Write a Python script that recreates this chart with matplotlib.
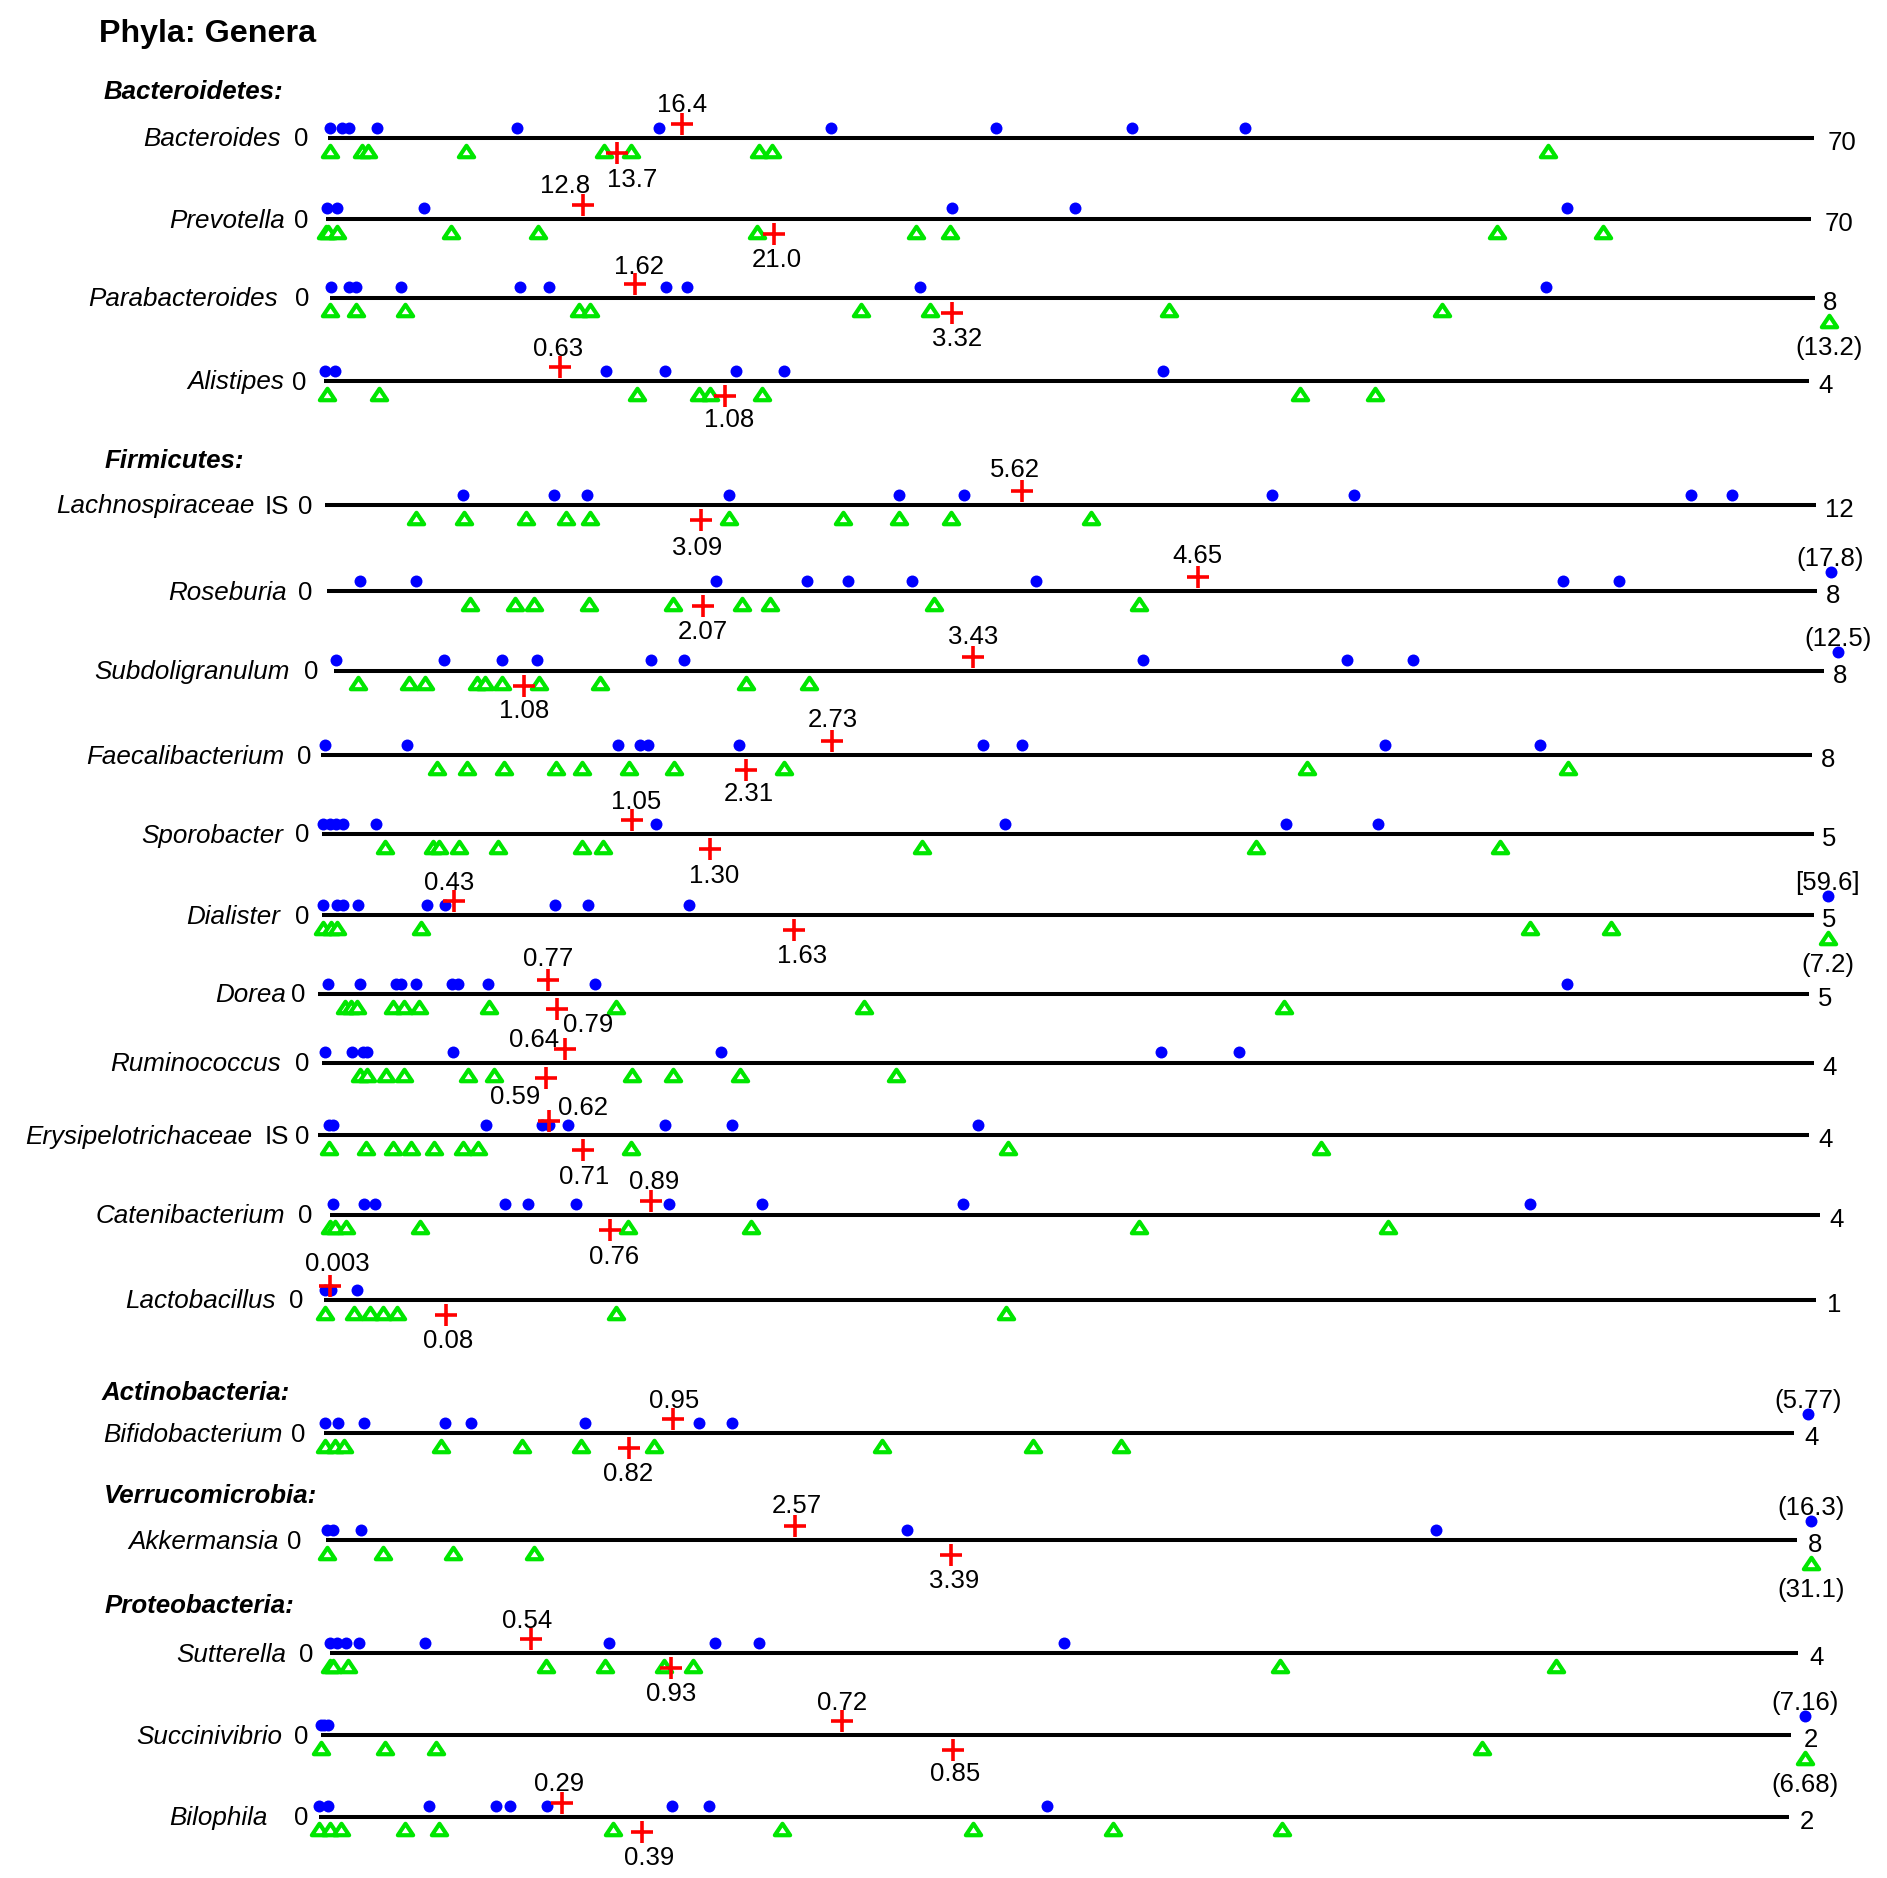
import matplotlib
matplotlib.use("Agg")
import matplotlib.pyplot as plt
from matplotlib.path import Path
from matplotlib.transforms import ScaledTranslation

plt.rcParams['font.family'] = ['Liberation Sans', 'DejaVu Sans']

# ---------------- data ----------------
title = "Phyla: Genera"
phyla = ["Bacteroidetes:", "Firmicutes:", "Actinobacteria:", "Verrucomicrobia:", "Proteobacteria:"]

genera = ["Bacteroides", "Prevotella", "Parabacteroides", "Alistipes",
          "Lachnospiraceae", "Roseburia", "Subdoligranulum", "Faecalibacterium",
          "Sporobacter", "Dialister", "Dorea", "Ruminococcus",
          "Erysipelotrichaceae", "Catenibacterium", "Lactobacillus",
          "Bifidobacterium", "Akkermansia", "Sutterella", "Succinivibrio", "Bilophila"]
genus_suffix = ["", "", "", "", "IS", "", "", "", "", "", "", "", "IS", "", "", "", "", "", "", ""]

scale_max = [70, 70, 8, 4, 12, 8, 8, 8, 5, 5, 5, 4, 4, 4, 1, 4, 8, 4, 2, 2]
scale_max_labels = ["70", "70", "8", "4", "12", "8", "8", "8", "5", "5", "5", "4", "4", "4", "1",
                    "4", "8", "4", "2", "2"]

# upper group (blue dots)
group_a = [
    [0.1, 0.67, 0.97, 2.3, 8.9, 15.6, 23.7, 31.5, 37.9, 43.2],
    [0.06, 0.52, 4.6, 29.5, 35.3, 58.5],
    [0.005, 0.10, 0.14, 0.38, 1.02, 1.18, 1.81, 1.92, 3.18, 6.55],
    [0.004, 0.03, 0.76, 0.92, 1.11, 1.24, 2.26],
    [1.11, 1.84, 2.11, 3.25, 4.62, 5.14, 7.62, 8.28, 11.0, 11.33],
    [0.18, 0.48, 2.09, 2.58, 2.80, 3.14, 3.81, 6.64, 6.94, 17.8],
    [0.01, 0.59, 0.90, 1.09, 1.70, 1.88, 4.34, 5.44, 5.79, 12.5],
    [0.02, 0.46, 1.59, 1.71, 1.75, 2.24, 3.55, 3.76, 5.71, 6.54],
    [0.004, 0.027, 0.045, 0.069, 0.18, 1.12, 2.29, 3.23, 3.54],
    [0.004, 0.05, 0.07, 0.12, 0.35, 0.41, 0.78, 0.89, 1.23, 59.6],
    [0.034, 0.14, 0.26, 0.28, 0.33, 0.45, 0.47, 0.57, 0.93, 4.19],
    [0.006, 0.08, 0.11, 0.12, 0.35, 1.07, 2.25, 2.46],
    [0.03, 0.04, 0.45, 0.60, 0.62, 0.67, 0.93, 1.11, 1.77],
    [0.006, 0.09, 0.12, 0.47, 0.53, 0.66, 0.91, 1.16, 1.70, 3.22],
    [0.001, 0.005, 0.022],
    [0.004, 0.04, 0.11, 0.33, 0.40, 0.71, 1.02, 1.11, 5.77],
    [0.007, 0.04, 0.19, 3.16, 6.04, 16.3],
    [0.002, 0.02, 0.045, 0.08, 0.26, 0.76, 1.05, 1.17, 2.00],
    [0.0, 0.005, 0.01, 7.16],
    [0.0, 0.012, 0.15, 0.24, 0.26, 0.31, 0.48, 0.53, 0.99],
]
# lower group (green triangles)
group_b = [
    [0.1, 1.6, 1.9, 6.5, 13.0, 14.3, 20.3, 20.9, 57.5],
    [0.0, 0.1, 0.52, 5.9, 10.0, 20.3, 27.8, 29.4, 55.2, 60.2],
    [0.0, 0.14, 0.40, 1.34, 1.40, 2.86, 3.23, 4.52, 5.99, 13.2],
    [0.01, 0.15, 0.845, 1.01, 1.04, 1.18, 2.63, 2.83],
    [0.73, 1.12, 1.62, 1.94, 2.13, 3.25, 4.17, 4.62, 5.04, 6.17],
    [0.77, 1.01, 1.11, 1.41, 1.86, 2.23, 2.38, 3.26, 4.36],
    [0.13, 0.40, 0.49, 0.77, 0.81, 0.90, 1.10, 1.43, 2.21, 2.55],
    [0.62, 0.78, 0.98, 1.26, 1.40, 1.65, 1.89, 2.48, 5.29, 6.69],
    [0.21, 0.37, 0.39, 0.46, 0.59, 0.87, 0.94, 2.01, 3.13, 3.95],
    [0.004, 0.03, 0.05, 0.33, 4.05, 4.32, 7.2],
    [0.09, 0.11, 0.13, 0.25, 0.29, 0.34, 0.575, 1.0, 1.83, 3.24],
    [0.10, 0.12, 0.17, 0.22, 0.39, 0.46, 0.83, 0.94, 1.12, 1.54],
    [0.03, 0.13, 0.20, 0.25, 0.31, 0.39, 0.43, 0.84, 1.85, 2.69],
    [0.0, 0.012, 0.042, 0.24, 0.80, 1.13, 2.17, 2.84],
    [0.001, 0.02, 0.031, 0.04, 0.049, 0.196, 0.457],
    [0.004, 0.03, 0.055, 0.32, 0.54, 0.70, 0.90, 1.52, 1.93, 2.17],
    [0.007, 0.31, 0.69, 1.13, 31.1],
    [0.0, 0.009, 0.05, 0.59, 0.75, 0.91, 0.99, 2.59, 3.34],
    [0.0, 0.088, 0.157, 1.58, 6.68],
    [0.0, 0.015, 0.03, 0.117, 0.163, 0.40, 0.63, 0.89, 1.08, 1.31],
]

mean_a = [16.7, 12.1, 1.64, 0.637, 5.61, 4.68, 3.43, 2.74, 1.04, 0.44,
          0.77, 0.65, 0.62, 0.86, 0.0045, 0.95, 2.55, 0.55, 0.71, 0.33]
mean_a_labels = ["16.4", "12.8", "1.62", "0.63", "5.62", "4.65", "3.43", "2.73", "1.05", "0.43",
                 "0.77", "0.64", "0.62", "0.89", "0.003", "0.95", "2.57", "0.54", "0.72", "0.29"]
mean_b = [13.6, 21.1, 3.35, 1.08, 3.03, 2.02, 1.02, 2.28, 1.30, 1.58,
          0.80, 0.60, 0.71, 0.75, 0.082, 0.83, 3.40, 0.93, 0.86, 0.44]
mean_b_labels = ["13.7", "21.0", "3.32", "1.08", "3.09", "2.07", "1.08", "2.31", "1.30", "1.63",
                 "0.79", "0.59", "0.71", "0.76", "0.08", "0.82", "3.39", "0.93", "0.85", "0.39"]

# outliers shown beyond the scale end: label format per (genus, group)
outlier_format = {("Dialister", "a"): "[{}]"}

# ---------------- layout (pixels) ----------------
W, H, DPI = 1887, 1878, 100
line_y = [138, 219, 297.7, 381, 505, 591, 670.7, 755, 834, 915, 994, 1062.7, 1135.3,
          1214.7, 1300, 1433.3, 1540.3, 1653.3, 1735, 1816.7]
line_x0 = [328, 326, 330.4, 323.7, 325, 326.8, 334, 321.4, 322.3, 322.3, 318, 322.3, 318,
           330.4, 323.7, 323.7, 326, 329.5, 320.5, 319.2]
line_x1 = [1813.5, 1811, 1814.8, 1809, 1815.7, 1816.6, 1824.4, 1812.2, 1813.5, 1813.5, 1809,
           1813.5, 1809, 1820, 1815.7, 1793.8, 1796.8, 1798.2, 1790.7, 1788.5]
name_right = [280.4, 284.8, 277.7, 284.4, 254.5, 287.0, 289.3, 284.8, 283.5, 280.4, 285.7,
              281.3, 252.2, 284.8, 275.4, 282.1, 279.0, 286.6, 282.6, 267.9]
suffix_right = 289.3
zero_right = [308, 308, 309, 306, 312.5, 312.5, 318.8, 311.6, 309.8, 309.8, 305.8, 309,
              309.8, 312.5, 303.6, 305.4, 301.3, 313.4, 308, 308]
max_gap = [14, 14, 8, 9, 9, 9, 8, 9, 8, 8, 9, 9, 9, 9, 11, 11, 11, 11, 13, 11]
a_dx = [0, -18, 4, -2, -7, -1, 0, 1, 4, -4, 1, -31, 34, 3, 7, 1, 2, -4, 0, -3]
a_dy = [35, 35, 33, 34, 37, 37, 36, 37, 34, 34, 37, 25, 29, 35, 38, 34, 36, 34, 34, 35]
b_dx = [16, 3, 5, 4, -4, 0, 0, 3, 4, 9, 32, -31, 1, 4, 2, -1, 3, 0, 2, 7]
b_dy = [-40, -39, -39, -37, -41, -39, -38, -37, -40, -39, -29, -32, -40, -40, -39, -39,
        -39, -39, -37, -39]
phyla_pos = [(103.6, 99.3), (105, 468.3), (101.8, 1400), (103.6, 1502.7), (105, 1613.3)]

BLUE, GREEN, RED = "#0000ff", "#00e600", "#ff0000"
NAME_FS, NUM_FS = 18.7, 18.5
HALF = 60

tri = Path([(-1, -0.75), (1, -0.75), (0, 0.75), (-1, -0.75)],
           [Path.MOVETO, Path.LINETO, Path.LINETO, Path.CLOSEPOLY])
TRI_MS, TRI_MEW = 11.0, 3.0
DOT_MS = 8.6

fig = plt.figure(figsize=(W / DPI, H / DPI), dpi=DPI)
fig.patch.set_facecolor("white")

canvas = fig.add_axes([0, 0, 1, 1])
canvas.set_xlim(0, W)
canvas.set_ylim(H, 0)
canvas.axis("off")

canvas.text(99, 41.7, title, fontsize=23.2, fontweight="bold", ha="left", va="baseline")
for name, (px, py) in zip(phyla, phyla_pos):
    canvas.text(px, py, name, fontsize=18.6, fontweight="bold", fontstyle="italic",
                ha="left", va="baseline")

for i, g in enumerate(genera):
    y, x0, x1 = line_y[i], line_x0[i], line_x1[i]
    mx = scale_max[i]
    # labels on the left
    canvas.text(name_right[i], y + 8.5, g, fontsize=NAME_FS, fontstyle="italic",
                ha="right", va="baseline")
    if genus_suffix[i]:
        canvas.text(suffix_right, y + 8.5, genus_suffix[i], fontsize=NAME_FS,
                    ha="right", va="baseline")
    canvas.text(zero_right[i], y + 8.5, "0", fontsize=NUM_FS, ha="right", va="baseline")

    ax = fig.add_axes([x0 / W, 1 - (y + HALF) / H, (x1 - x0) / W, 2 * HALF / H])
    ax.set_xlim(0, mx)
    ax.set_ylim(-HALF, HALF)
    ax.axis("off")
    ax.plot([0, mx], [0, 0], color="black", lw=2.9, solid_capstyle="butt", zorder=1)
    ax.text(mx, -12, scale_max_labels[i],
            transform=ax.transData + ScaledTranslation(max_gap[i] / DPI, 0, fig.dpi_scale_trans),
            fontsize=NUM_FS, ha="left", va="baseline")
    shift = ax.transData + ScaledTranslation(14 / DPI, 0, fig.dpi_scale_trans)

    a_in = [v for v in group_a[i] if v <= mx]
    a_out = [v for v in group_a[i] if v > mx]
    b_in = [v for v in group_b[i] if v <= mx]
    b_out = [v for v in group_b[i] if v > mx]

    ax.plot(a_in, [10.5] * len(a_in), ls="none", marker="o", ms=DOT_MS, color=BLUE,
            mec=BLUE, mew=0, clip_on=False, zorder=3)
    ax.plot(b_in, [-12.5] * len(b_in), ls="none", marker=tri, ms=TRI_MS, mfc="white",
            mec=GREEN, mew=TRI_MEW, clip_on=False, zorder=3)
    for v in a_out:
        ax.plot([mx], [19], ls="none", marker="o", ms=DOT_MS, color=BLUE, mew=0,
                transform=shift, clip_on=False, zorder=3)
        fmt = outlier_format.get((g, "a"), "({})")
        ax.text(mx, 34 - 9, fmt.format(v), transform=shift, fontsize=NUM_FS,
                ha="center", va="baseline")
    for v in b_out:
        ax.plot([mx], [-23], ls="none", marker=tri, ms=TRI_MS, mfc="white", mec=GREEN,
                mew=TRI_MEW, transform=shift, clip_on=False, zorder=3)
        fmt = outlier_format.get((g, "b"), "({})")
        ax.text(mx, -48 - 9, fmt.format(v), transform=shift, fontsize=NUM_FS,
                ha="center", va="baseline")

    ax.plot([mean_a[i]], [14], ls="none", marker="+", ms=16.5, mew=2.6, color=RED,
            clip_on=False, zorder=4)
    ax.plot([mean_b[i]], [-15], ls="none", marker="+", ms=16.5, mew=2.6, color=RED,
            clip_on=False, zorder=4)
    ax.annotate(mean_a_labels[i], xy=(mean_a[i], 0), xytext=(a_dx[i], a_dy[i] - 9),
                textcoords="offset pixels", fontsize=NUM_FS, ha="center", va="baseline")
    ax.annotate(mean_b_labels[i], xy=(mean_b[i], 0), xytext=(b_dx[i], b_dy[i] - 9),
                textcoords="offset pixels", fontsize=NUM_FS, ha="center", va="baseline")

fig.savefig("out.png", dpi=DPI, facecolor="white")
